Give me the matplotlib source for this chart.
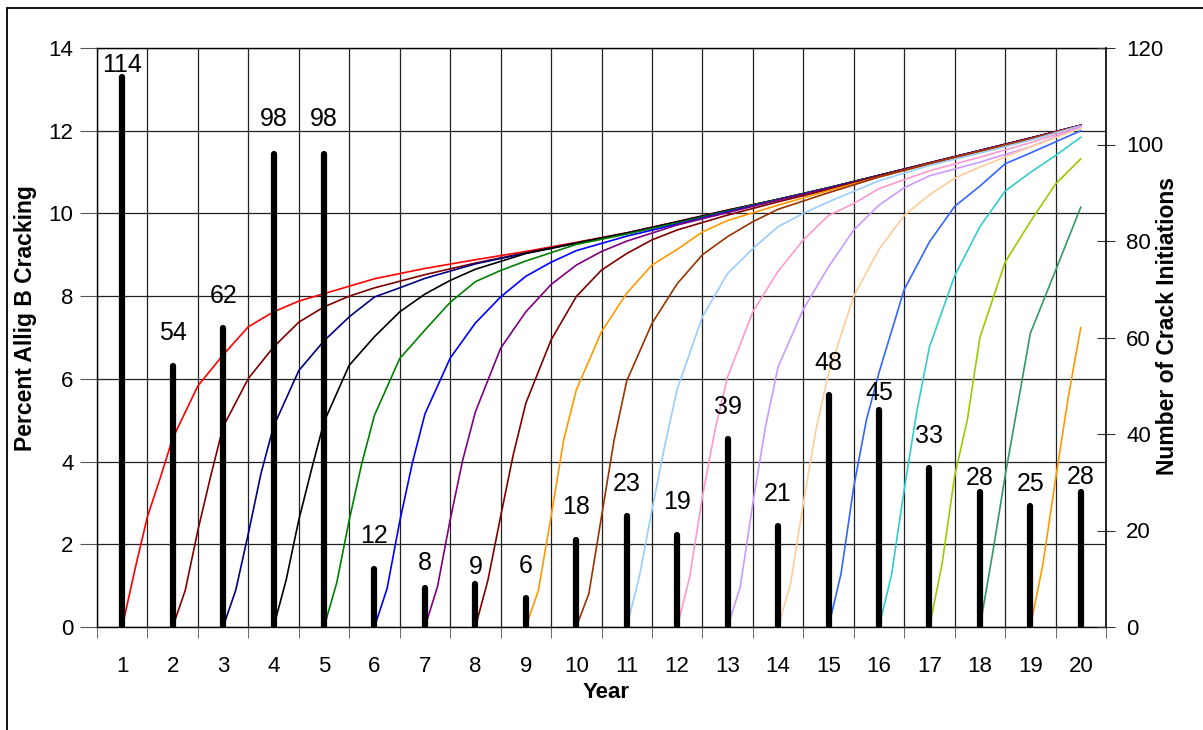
import numpy as np
import matplotlib.pyplot as plt
from matplotlib.patches import Rectangle

plt.rcParams['font.family'] = ['Liberation Sans', 'DejaVu Sans']

years = list(range(1, 21))
initiations = [114, 54, 62, 98, 98, 12, 8, 9, 6, 18, 23, 19, 39, 21, 48, 45, 33, 28, 25, 28]

# years after initiation at which each cracking curve was read
offsets = [0, 0.25, 0.5, 0.75, 1, 1.5, 2, 2.5, 3, 3.5, 4,
           5, 6, 7, 8, 9, 10, 11, 12, 13, 14, 15, 16, 17, 18, 19]

# percent cracking for the cohort starting in year 1, 2, ... 19
cracking = [
    [0, 1.38, 2.67, 3.59, 4.56, 5.83, 6.58, 7.26, 7.62, 7.88, 8.06,
     8.42, 8.67, 8.88, 9.08, 9.3, 9.53, 9.8, 10.08, 10.34, 10.62, 10.92, 11.22, 11.52, 11.82, 12.13],
    [0, 0.89, 2.34, 3.63, 4.84, 6.01, 6.77, 7.37, 7.74, 8.0, 8.2,
     8.52, 8.8, 9.05, 9.29, 9.53, 9.8, 10.08, 10.34, 10.62, 10.92, 11.22, 11.52, 11.82, 12.13],
    [0, 0.89, 2.26, 3.71, 4.85, 6.2, 6.92, 7.5, 7.98, 8.2, 8.43,
     8.78, 9.04, 9.28, 9.52, 9.79, 10.07, 10.34, 10.62, 10.92, 11.22, 11.52, 11.82, 12.13],
    [0, 1.14, 2.59, 3.8, 4.96, 6.33, 7.02, 7.62, 8.05, 8.38, 8.65,
     9.03, 9.28, 9.52, 9.79, 10.07, 10.34, 10.62, 10.92, 11.22, 11.52, 11.82, 12.13],
    [0, 1.06, 2.59, 3.96, 5.12, 6.49, 7.18, 7.85, 8.35, 8.62, 8.85,
     9.25, 9.5, 9.77, 10.06, 10.34, 10.62, 10.92, 11.22, 11.52, 11.82, 12.13],
    [0, 0.93, 2.55, 3.96, 5.15, 6.5, 7.35, 7.98, 8.48, 8.82, 9.1,
     9.45, 9.74, 10.04, 10.33, 10.61, 10.91, 11.22, 11.52, 11.82, 12.13],
    [0, 0.98, 2.59, 4.04, 5.2, 6.74, 7.62, 8.28, 8.75, 9.08, 9.33,
     9.72, 10.02, 10.32, 10.6, 10.91, 11.22, 11.52, 11.82, 12.13],
    [0, 1.14, 2.67, 4.16, 5.41, 6.94, 7.99, 8.63, 9.03, 9.36, 9.6,
     9.96, 10.28, 10.58, 10.9, 11.21, 11.51, 11.81, 12.12],
    [0, 0.89, 2.67, 4.52, 5.73, 7.14, 8.07, 8.75, 9.13, 9.55, 9.83,
     10.2, 10.55, 10.88, 11.2, 11.5, 11.8, 12.12],
    [0, 0.81, 2.67, 4.52, 5.95, 7.34, 8.3, 9.0, 9.44, 9.8, 10.1,
     10.5, 10.88, 11.2, 11.5, 11.8, 12.12],
    [0, 1.22, 2.83, 4.36, 5.75, 7.5, 8.55, 9.15, 9.68, 10.0, 10.28,
     10.79, 11.16, 11.46, 11.77, 12.12],
    [0, 1.22, 3.15, 4.76, 6.05, 7.62, 8.6, 9.36, 9.95, 10.24, 10.6,
     11.03, 11.36, 11.71, 12.1],
    [0, 0.97, 2.99, 4.84, 6.29, 7.68, 8.71, 9.6, 10.2, 10.62, 10.91,
     11.24, 11.61, 12.1],
    [0, 1.06, 2.99, 4.76, 6.13, 8.0, 9.13, 9.95, 10.45, 10.85, 11.12,
     11.61, 12.06],
    [0, 1.3, 3.39, 5.0, 6.15, 8.16, 9.31, 10.17, 10.66, 11.2, 11.46,
     12.0],
    [0, 1.27, 3.32, 5.21, 6.77, 8.49, 9.68, 10.54, 10.99, 11.4, 11.84],
    [0, 1.52, 3.65, 5.0, 7.0, 8.82, 9.8, 10.71, 11.32],
    [0, 1.76, 3.65, 5.37, 7.1, 8.62, 10.15],
    [0, 1.52, 3.57, 5.54, 7.24],
]

colors = ['#FF0000', '#800000', '#000080', '#000000', '#008000', '#0000FF',
          '#800080', '#800000', '#FF9900', '#993300', '#99CCFF', '#FF99CC',
          '#CC99FF', '#FFCC99', '#3366FF', '#33CCCC', '#99CC00', '#339966',
          '#FF9900']

# label offset above the bar top (pixels)
label_pad = [12, 33, 32, 35, 35, 33, 25, 17, 32, 33, 32, 33, 32, 32, 32, 17, 32, 14, 22, 15]

W, H = 1203, 730
fig = plt.figure(figsize=(W / 100, H / 100), dpi=100)
ax = fig.add_axes([97 / W, 1 - 627 / H, 1009 / W, 579 / H])
ax2 = ax.twinx()

# outer chart border
fig.patches.append(Rectangle((7 / W, -0.2), 1.2, 1.2 - 8 / H, transform=fig.transFigure,
                             fill=False, edgecolor='black', linewidth=1.3))

for k, vals in enumerate(cracking):
    start = years[k]
    xs = [start + o for o in offsets[:len(vals)]]
    ax.plot(xs, vals, color=colors[k], linewidth=1.2, solid_joinstyle='round')

ax.set_xlim(0.5, 20.5)
ax.set_ylim(0, 14)
ax.set_yticks(np.arange(0, 15, 2))
ax.set_xticks(years)
ax.set_xticks(np.arange(0.5, 21, 1), minor=True)
ax.tick_params(axis='x', which='major', length=0, pad=21, labelsize=16)
ax.tick_params(axis='x', which='minor', length=8, color='#555555', direction='out')
ax.tick_params(axis='y', length=12, color='#555555', direction='out', labelsize=16, pad=5)
ax.grid(True, which='minor', axis='x', color='#222222', linewidth=0.9)
ax.grid(True, which='major', axis='y', color='#222222', linewidth=0.9)
ax.set_axisbelow(True)
for s in ['left', 'bottom', 'top']:
    ax.spines[s].set_color('black')
    ax.spines[s].set_linewidth(1.0)
ax.spines['right'].set_visible(False)

ax2.set_ylim(0, 120)
ax2.set_yticks(np.arange(0, 121, 20))
ax2.tick_params(axis='y', length=13, direction='inout', color='#333333', labelsize=16, pad=8)
for s in ['left', 'bottom', 'top']:
    ax2.spines[s].set_visible(False)
ax2.spines['right'].set_color('black')
ax2.spines['right'].set_linewidth(1.2)

lines = ax2.vlines(years, 0, initiations, color='black', linewidth=4.5)
lines.set_capstyle('round')
for x, v, p in zip(years, initiations, label_pad):
    ax2.annotate(str(v), (x, v), xytext=(0, p * 0.72), textcoords='offset points',
                 ha='center', va='center', fontsize=18)

fig.text(26 / W, 1 - 318 / H, 'Percent Allig B Cracking', rotation=90,
         ha='center', va='center', fontsize=16.5, fontweight='bold')
fig.text(1167 / W, 1 - 326 / H, 'Number of Crack Initiations', rotation=90,
         ha='center', va='center', fontsize=16.5, fontweight='bold')
fig.text(606 / W, 1 - 692 / H, 'Year', ha='center', va='center',
         fontsize=16, fontweight='bold')

fig.savefig('out.png', dpi=100)
